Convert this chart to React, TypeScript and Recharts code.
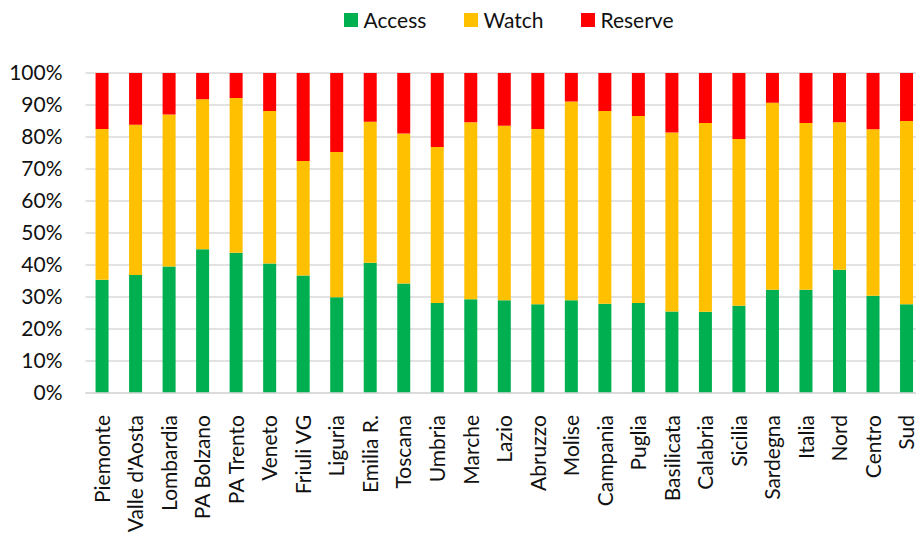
import React from "react";
import { BarChart, Bar, XAxis, YAxis, CartesianGrid, Legend } from "recharts";

// Regions and areas shown along the x axis
const regions = [
  "Piemonte", "Valle d'Aosta", "Lombardia", "PA Bolzano", "PA Trento", "Veneto",
  "Friuli VG", "Liguria", "Emilia R.", "Toscana", "Umbria", "Marche", "Lazio",
  "Abruzzo", "Molise", "Campania", "Puglia", "Basilicata", "Calabria", "Sicilia",
  "Sardegna", "Italia", "Nord", "Centro", "Sud",
];

// Share (%) of each AWaRe group per region
const access = [
  35.4, 36.9, 39.5, 44.9, 43.8, 40.5, 36.7, 29.9, 40.7, 34.2, 28.1, 29.3, 29.0,
  27.7, 29.0, 27.9, 28.1, 25.5, 25.4, 27.3, 32.3, 32.3, 38.5, 30.4, 27.7,
];
const watch = [
  47.1, 46.9, 47.5, 46.9, 48.4, 47.6, 35.8, 45.4, 44.1, 46.9, 48.8, 55.3, 54.5,
  54.8, 62.1, 60.2, 58.5, 55.9, 59.0, 52.1, 58.4, 52.1, 46.1, 52.0, 57.3,
];
const reserve = [
  17.5, 16.2, 13.0, 8.2, 7.8, 11.9, 27.5, 24.7, 15.2, 18.9, 23.1, 15.4, 16.5,
  17.5, 8.9, 11.9, 13.4, 18.6, 15.6, 20.6, 9.3, 15.6, 15.4, 17.6, 15.0,
];

const yTicks = [0, 10, 20, 30, 40, 50, 60, 70, 80, 90, 100];

const series = [
  { key: "Access", color: "#00B050" },
  { key: "Watch", color: "#FFC000" },
  { key: "Reserve", color: "#FF0000" },
];

const data = regions.map((name, i) => ({
  name,
  Access: access[i],
  Watch: watch[i],
  Reserve: reserve[i],
}));

const FONT = "Lato, 'Open Sans', sans-serif";
const TEXT = "#111111";

const RotatedTick = (props: any) => {
  const { x, y, payload } = props;
  return (
    <text
      x={x}
      y={y}
      dy="0.36em"
      transform={`rotate(-90, ${x}, ${y})`}
      textAnchor="end"
      fill={TEXT}
      fontSize={21}
      fontFamily={FONT}
    >
      {payload.value}
    </text>
  );
};

const LegendContent = () => (
  <div
    style={{
      display: "flex",
      justifyContent: "center",
      alignItems: "center",
      fontFamily: FONT,
      fontSize: 21,
      color: TEXT,
      lineHeight: "28px",
    }}
  >
    {series.map((s, i) => (
      <div
        key={s.key}
        style={{ display: "flex", alignItems: "center", marginLeft: i === 0 ? 0 : 38 }}
      >
        <span
          style={{
            display: "inline-block",
            width: 14,
            height: 14,
            background: s.color,
            marginRight: 5,
          }}
        />
        <span>{s.key}</span>
      </div>
    ))}
  </div>
);

export default function App() {
  return (
    <div
      style={{
        position: "absolute",
        left: 0,
        top: 0,
        width: 916,
        height: 542,
        overflow: "hidden",
        background: "#ffffff",
      }}
    >
      <BarChart
        width={940}
        height={542}
        data={data}
        margin={{ top: 73, right: 16.5, left: 0, bottom: 0 }}
        barCategoryGap="30%"
      >
        <CartesianGrid vertical={false} stroke="#D9D9D9" strokeWidth={1.3} />
        <XAxis
          dataKey="name"
          interval={0}
          height={149}
          tickLine={false}
          tickSize={0}
          tickMargin={22}
          axisLine={{ stroke: "#D9D9D9", strokeWidth: 1.3 }}
          tick={<RotatedTick />}
        />
        <YAxis
          width={85.5}
          domain={[0, 100]}
          ticks={yTicks}
          allowDataOverflow
          tickFormatter={(v: number) => `${v}%`}
          axisLine={false}
          tickLine={false}
          tickSize={0}
          tickMargin={23}
          tick={{ fill: TEXT, fontSize: 21, fontFamily: FONT }}
        />
        <Legend
          verticalAlign="middle"
          align="center"
          content={<LegendContent />}
          wrapperStyle={{ top: 6, left: 0, width: 1018, height: 28 }}
        />
        {series.map((s) => (
          <Bar
            key={s.key}
            dataKey={s.key}
            stackId="aware"
            fill={s.color}
            isAnimationActive={false}
          />
        ))}
      </BarChart>
    </div>
  );
}
